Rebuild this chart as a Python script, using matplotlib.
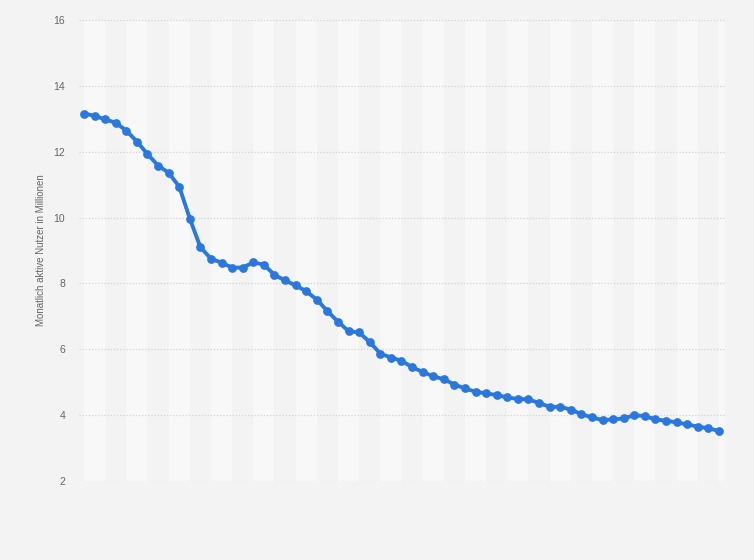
import numpy as np
import matplotlib
matplotlib.use('Agg')
import matplotlib.pyplot as plt

plt.rcParams['font.family'] = ['Liberation Sans', 'DejaVu Sans']

# monthly active users (millions), one value per period
users = [13.16, 13.09, 12.98, 12.88, 12.64, 12.31, 11.93, 11.58, 11.36, 10.94,
         9.97, 9.10, 8.75, 8.63, 8.48, 8.48, 8.64, 8.57, 8.26, 8.09,
         7.94, 7.76, 7.51, 7.16, 6.84, 6.55, 6.51, 6.22, 5.87, 5.75,
         5.65, 5.46, 5.31, 5.18, 5.09, 4.93, 4.81, 4.71, 4.66, 4.61,
         4.54, 4.49, 4.48, 4.37, 4.25, 4.25, 4.17, 4.03, 3.93, 3.85,
         3.87, 3.90, 4.00, 3.97, 3.87, 3.83, 3.78, 3.72, 3.65, 3.60, 3.52]
yticks = [2, 4, 6, 8, 10, 12, 14, 16]
ylabel = 'Monatlich aktive Nutzer in Millionen'

bg = '#f3f3f3'
band = '#f8f8f8'
blue = '#2a78de'

fig = plt.figure(figsize=(7.54, 5.6), dpi=100, facecolor=bg)
ax = fig.add_axes([79/754, 1-481/560, (725-79)/754, (481-20)/560])
ax.set_facecolor(bg)

x = np.arange(len(users))
xmin, xmax = -0.47, len(users) - 1 + 0.57

# alternating vertical bands
for start in range(0, len(users), 4):
    ax.axvspan(start, start + 2, color=band, lw=0, zorder=0)

for t in yticks:
    ax.axhline(t, color='#d4d4d4', lw=0.9, ls=(0, (1, 1.5)), zorder=1)

ax.plot(x, users, color=blue, lw=2.8, marker='o', markersize=6.3,
        markeredgewidth=0, zorder=3, solid_joinstyle='round')

ax.set_xlim(xmin, xmax)
ax.set_ylim(2, 16)
ax.set_yticks(yticks)
ax.set_yticklabels([str(t) for t in yticks], color='#666666', fontsize=7.5)
ax.set_xticks([])
ax.tick_params(axis='y', length=0, pad=10)
for s in ax.spines.values():
    s.set_visible(False)

ax.set_ylabel(ylabel, color='#666666', fontsize=7, labelpad=5)

fig.savefig('out.png', dpi=100, facecolor=bg)
